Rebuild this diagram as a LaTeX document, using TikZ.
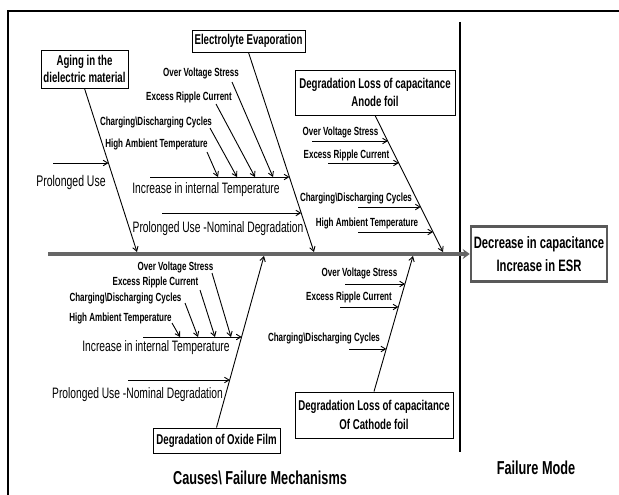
\documentclass[tikz,border=0pt]{standalone}
\usepackage{fontspec}
\setmainfont{Liberation Sans}[FakeStretch=0.68]
\usetikzlibrary{arrows.meta,calc}
\begin{document}
\begin{tikzpicture}[x=1pt,y=-1pt,
  lbl/.style={inner sep=0pt, font=\fontsize{11.8}{13}\selectfont\bfseries},
  big/.style={inner sep=0pt, font=\fontsize{15.1}{16}\selectfont},
  box/.style={draw, line width=0.9pt, inner sep=0pt, align=center, font=\fontsize{14.2}{17}\selectfont\bfseries},
  arr/.style={-{Straight Barb[length=4.5pt,width=5.5pt]}, line width=0.9pt},
  ttl/.style={inner sep=0pt, font=\fontsize{18.7}{20}\selectfont\bfseries}]
\useasboundingbox (0,0) rectangle (619,495);
% frame and divider
\draw[line width=1.3pt] (619,11) -- (8,11) -- (8,495);
\draw[line width=2.2pt] (460,22) -- (460,452);
% boxes
\node[box, minimum width=87pt, minimum height=38pt] (aging) at (84.5,69) {Aging in the\\dielectric material};
\node[box, minimum width=113pt, minimum height=22pt] (evap) at (248.5,41) {Electrolyte Evaporation};
\node[box, minimum width=160pt, minimum height=45pt, font=\fontsize{14.2}{18}\selectfont\bfseries] (anode) at (375,92.5) {Degradation Loss of capacitance\\Anode foil};
\node[box, minimum width=127pt, minimum height=25pt] (oxide) at (216.5,440.5) {Degradation of Oxide Film};
\node[box, minimum width=158pt, minimum height=46pt, font=\fontsize{14.2}{19}\selectfont\bfseries] (cathode) at (374,415) {Degradation Loss of capacitance\\Of Cathode foil};
\node[box, draw=black!65, line width=2.5pt, minimum width=136pt, minimum height=55pt, font=\fontsize{16.5}{23}\selectfont\bfseries] (result) at (539,254) {Decrease in capacitance\\Increase in ESR};
% spine
\coordinate (spine0) at (48,254);
\draw[line width=4pt, black!60, -{Stealth[length=7pt,width=10pt]}] (spine0) -- (result.west);
% spine points
\coordinate (sA) at (137,252);
\coordinate (sE) at (314,252);
\coordinate (sAn) at (443,252);
\coordinate (sO) at (264,256);
\coordinate (sC) at (413,256);
% main bones
\draw[arr] (aging.south) -- (sA);
\draw[arr] (evap.south) -- (sE);
\draw[arr] (anode.south) -- (sAn);
\draw[arr] (oxide.north) -- (sO);
\draw[arr] (cathode.north) -- (sC);

% ---- Aging branch
\coordinate (a1s) at (53,163); \coordinate (a1e) at (108.5,163);
\draw[arr] (a1s) -- (a1e);
\node[big, font=\fontsize{15.4}{16}\selectfont] (pu) at (71,183) {Prolonged Use};

% ---- Evaporation branch
\coordinate (e1s) at (150,177); \coordinate (e1e) at (289.4,177);
\coordinate (e2s) at (162,213); \coordinate (e2e) at (301.2,213);
\draw[arr] (e1s) -- (e1e);
\draw[arr] (e2s) -- (e2e);
\node[big] (eiit) at (206,190) {Increase in internal Temperature};
\node[big] (epun) at (218,229) {Prolonged Use -Nominal Degradation};
\node[lbl] (eovs) at (201,73) {Over Voltage Stress};
\node[lbl] (eerc) at (189,97) {Excess Ripple Current};
\node[lbl] (ecdc) at (156,122) {Charging\textbackslash Discharging Cycles};
\node[lbl] (ehat) at (156.5,144) {High Ambient Temperature};
\coordinate (eh1) at (207,152); \coordinate (eh2) at (218,177);
\coordinate (ec1) at (210,128); \coordinate (ec2) at (237,177);
\coordinate (er1) at (216,104); \coordinate (er2) at (255,177);
\coordinate (eo1) at (232,82);  \coordinate (eo2) at (273,177);
\draw[arr] (eh1) -- (eh2);
\draw[arr] (ec1) -- (ec2);
\draw[arr] (er1) -- (er2);
\draw[arr] (eo1) -- (eo2);

% ---- Anode branch
\node[lbl] (aovs) at (340.5,132) {Over Voltage Stress};
\node[lbl] (aerc) at (346.5,155) {Excess Ripple Current};
\node[lbl] (acdc) at (356,198) {Charging\textbackslash Discharging Cycles};
\node[lbl] (ahat) at (367,223) {High Ambient Temperature};
\coordinate (n1s) at (312,141); \coordinate (n1e) at (387.9,141);
\coordinate (n2s) at (328,163); \coordinate (n2e) at (398.8,163);
\coordinate (n3s) at (358,207); \coordinate (n3e) at (420.7,207);
\coordinate (n4s) at (358,232); \coordinate (n4e) at (433.1,232);
\draw[arr] (n1s) -- (n1e);
\draw[arr] (n2s) -- (n2e);
\draw[arr] (n3s) -- (n3e);
\draw[arr] (n4s) -- (n4e);

% ---- Oxide branch
\coordinate (o1s) at (143,337); \coordinate (o1e) at (241.6,337);
\coordinate (o2s) at (128,380); \coordinate (o2e) at (229.8,380);
\draw[arr] (o1s) -- (o1e);
\draw[arr] (o2s) -- (o2e);
\node[big] (oiit) at (156,348) {Increase in internal Temperature};
\node[big] (opun) at (137.5,395) {Prolonged Use -Nominal Degradation};
\node[lbl] (oovs) at (175.5,267) {Over Voltage Stress};
\node[lbl] (oerc) at (155.5,282) {Excess Ripple Current};
\node[lbl] (ocdc) at (125.5,298) {Charging\textbackslash Discharging Cycles};
\node[lbl] (ohat) at (120.5,318) {High Ambient Temperature};
\coordinate (oh1) at (172,323); \coordinate (oh2) at (180,337);
\coordinate (oc1) at (185,303); \coordinate (oc2) at (198,337);
\coordinate (or1) at (200,290); \coordinate (or2) at (215,337);
\coordinate (oo1) at (212,273); \coordinate (oo2) at (231,337);
\draw[arr] (oh1) -- (oh2);
\draw[arr] (oc1) -- (oc2);
\draw[arr] (or1) -- (or2);
\draw[arr] (oo1) -- (oo2);

% ---- Cathode branch
\node[lbl] (covs) at (359.5,273) {Over Voltage Stress};
\node[lbl] (cerc) at (349,297) {Excess Ripple Current};
\node[lbl] (ccdc) at (324,338) {Charging\textbackslash Discharging Cycles};
\coordinate (c1s) at (345,284); \coordinate (c1e) at (405,284);
\coordinate (c2s) at (340,307); \coordinate (c2e) at (398.4,307);
\coordinate (c3s) at (349,349); \coordinate (c3e) at (386.3,349);
\draw[arr] (c1s) -- (c1e);
\draw[arr] (c2s) -- (c2e);
\draw[arr] (c3s) -- (c3e);

% titles
\node[ttl] (t1) at (260,478) {Causes\textbackslash{} Failure Mechanisms};
\node[ttl] (t2) at (536,468) {Failure Mode};
\end{tikzpicture}
\end{document}
